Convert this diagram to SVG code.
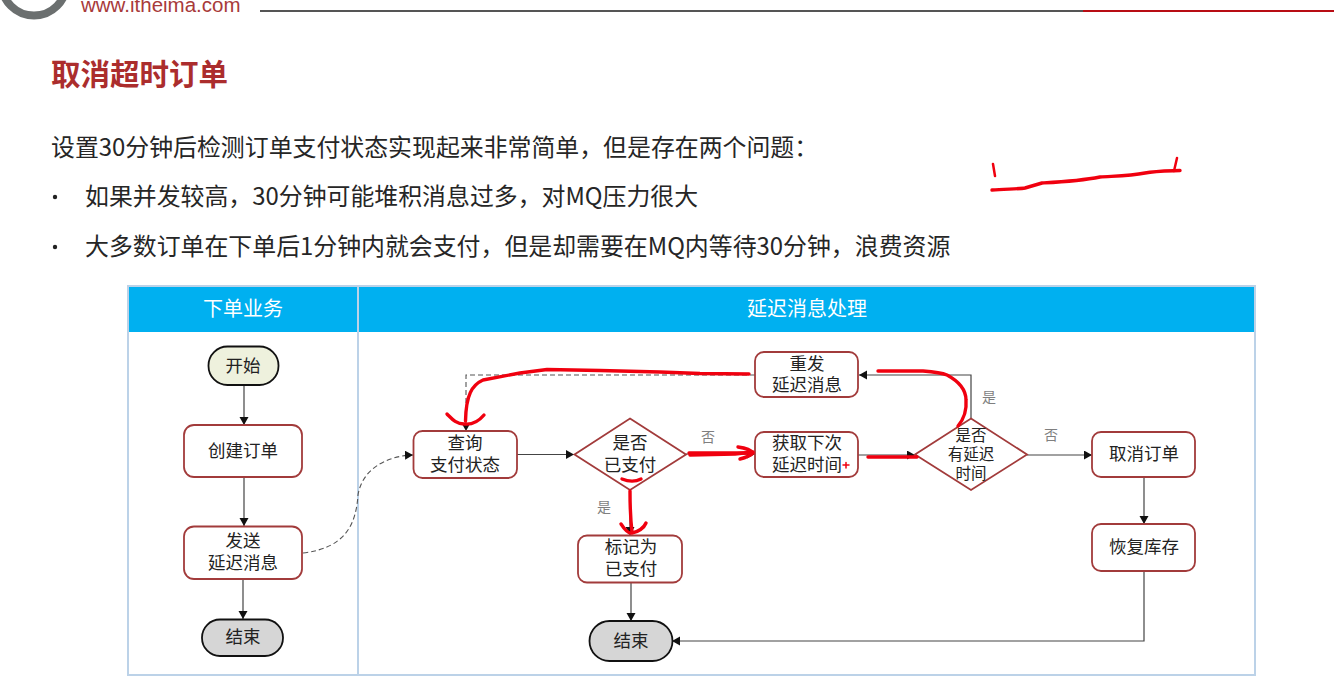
<svg xmlns="http://www.w3.org/2000/svg" width="1334" height="687" viewBox="0 0 1334 687">
<style>
text{font-family:"Noto Sans CJK SC","Noto Sans",sans-serif;fill:#222}
.b{font-size:23.900px;fill:#262626}
.n{font-size:17.500px;text-anchor:middle;fill:#222}
.s{font-size:15.500px;text-anchor:middle;fill:#222}
.l{font-size:14px;text-anchor:middle;fill:#7f7f7f}
.h{font-size:20px;text-anchor:middle;fill:#fff}
.box{fill:#fff;stroke:#a23b3b;stroke-width:1.800}
.st{stroke:#111;stroke-width:1.800}
.c{fill:none;stroke:#444;stroke-width:1.200}
.d{fill:none;stroke:#555;stroke-width:1.100;stroke-dasharray:5 3}
.r{fill:none;stroke:#f0000f;stroke-width:3.400;stroke-linecap:round;stroke-linejoin:round}
.lane{fill:none;stroke:#bcd2e8;stroke-width:2}
</style>
<defs>
<marker id="a" markerUnits="userSpaceOnUse" markerWidth="10" markerHeight="10" refX="8" refY="4.500" orient="auto"><path d="M0 0L8 4.500L0 9Z" fill="#111"/></marker>
</defs>
<rect width="1334" height="687" fill="#fff"/>
<g id="header">
<circle cx="34" cy="-17" r="32.500" fill="none" stroke="#6b6f6f" stroke-width="8"/>
<text x="81" y="12" style="font-family:'Liberation Sans',sans-serif;font-size:20.500px;fill:#a83a3a">www.itheima.com</text>
<rect x="260" y="10" width="824" height="2" fill="#555"/>
<rect x="1083" y="10" width="251" height="2" fill="#b80d14"/>
</g>
<text x="51" y="85" style="font-size:29.500px;font-weight:700;fill:#ab2d2d">取消超时订单</text>
<text class="b" x="51" y="156">设置30分钟后检测订单支付状态实现起来非常简单，但是存在两个问题：</text>
<circle cx="55" cy="197" r="2.200" fill="#222"/>
<text class="b" x="85" y="205">如果并发较高，30分钟可能堆积消息过多，对MQ压力很大</text>
<circle cx="55" cy="247" r="2.200" fill="#222"/>
<text class="b" x="85" y="255">大多数订单在下单后1分钟内就会支付，但是却需要在MQ内等待30分钟，浪费资源</text>
<g id="swimlanes">
<rect x="128" y="286" width="1127" height="46" fill="#00b0f0"/>
<rect class="lane" x="128" y="286" width="1127" height="389"/>
<path class="lane" d="M358 286V675"/>
<text class="h" x="243" y="316">下单业务</text>
<text class="h" x="807" y="316">延迟消息处理</text>
</g>
<g id="connectors">
<path class="c" d="M244 385V425" marker-end="url(#a)"/>
<path class="c" d="M244 477V526" marker-end="url(#a)"/>
<path class="c" d="M243 579V619" marker-end="url(#a)"/>
<path class="d" d="M303 553C345 548 356 525 358 495C362 470 385 456 413 455" marker-end="url(#a)"/>
<path class="c" d="M517 454.500H574" marker-end="url(#a)"/>
<path class="c" d="M686 454H755" marker-end="url(#a)"/>
<path class="c" d="M630 490V535" marker-end="url(#a)"/>
<path class="c" d="M631 582V621" marker-end="url(#a)"/>
<path class="c" d="M858 455H915" marker-end="url(#a)"/>
<path class="c" d="M971 418V375H859" marker-end="url(#a)"/>
<path class="d" d="M755 375H466V431" marker-end="url(#a)"/>
<path class="c" d="M1027 455H1092" marker-end="url(#a)"/>
<path class="c" d="M1144 477V524" marker-end="url(#a)"/>
<path class="c" d="M1144 571V641H672" marker-end="url(#a)"/>
<text class="l" x="708" y="442">否</text>
<text class="l" x="604" y="512">是</text>
<text class="l" x="989" y="402">是</text>
<text class="l" x="1051" y="440">否</text>
</g>
<g id="start1"><rect x="208.500" y="346.500" width="70" height="38.500" rx="19" fill="#eef1dd" class="st"/><text class="n" x="243" y="372">开始</text></g>
<g id="create"><rect class="box" x="184" y="425" width="118" height="52" rx="10"/><text class="n" x="243" y="457">创建订单</text></g>
<g id="send"><rect class="box" x="184" y="526.500" width="118" height="52.500" rx="10"/><text class="n"><tspan x="243" y="547">发送</tspan><tspan x="243" y="569">延迟消息</tspan></text></g>
<g id="end1"><rect x="202" y="619.500" width="81" height="36.500" rx="18" fill="#d6d6d6" class="st"/><text class="n" x="243" y="643">结束</text></g>
<g id="query"><rect class="box" x="413.500" y="431" width="103.500" height="47" rx="9"/><text class="n"><tspan x="465" y="449">查询</tspan><tspan x="465" y="471">支付状态</tspan></text></g>
<g id="paid"><path class="box" d="M630 418.500L686 454.500L630 490L574.500 454.500Z"/><text class="n"><tspan x="630" y="449">是否</tspan><tspan x="630" y="471">已支付</tspan></text></g>
<g id="next"><rect class="box" x="755" y="432" width="103" height="45" rx="9"/><text class="n"><tspan x="807" y="449">获取下次</tspan><tspan x="807" y="471">延迟时间</tspan></text></g>
<g id="resend"><rect class="box" x="755" y="352" width="103" height="45" rx="9"/><text class="n"><tspan x="807" y="370">重发</tspan><tspan x="807" y="391">延迟消息</tspan></text></g>
<g id="hasdelay"><path class="box" d="M971 418.500L1027 454.500L971 490L915 454.500Z"/><text class="s"><tspan x="971" y="441">是否</tspan><tspan x="971" y="460">有延迟</tspan><tspan x="971" y="479">时间</tspan></text></g>
<g id="cancel"><rect class="box" x="1092" y="432" width="103" height="45" rx="9"/><text class="n" x="1144" y="460">取消订单</text></g>
<g id="restore"><rect class="box" x="1092" y="524" width="103" height="47" rx="9"/><text class="n" x="1144" y="553">恢复库存</text></g>
<g id="mark"><rect class="box" x="578" y="535.500" width="104" height="47" rx="9"/><text class="n"><tspan x="631" y="553">标记为</tspan><tspan x="631" y="575">已支付</tspan></text></g>
<g id="end2"><rect x="589.500" y="621" width="83" height="40" rx="20" fill="#d6d6d6" class="st"/><text class="n" x="631" y="647">结束</text></g>
<g id="annotations">
<path class="r" d="M749 374L700 373.500L660 372L600 370.500L547 369.500L520 373L483 380C472 385 466 395 465.500 421"/>
<path class="r" d="M447 414C452 419 456 424 464 424C472 425 479 421 484 415"/>
<path class="r" d="M622 479C627 481 635 482 641 479"/>
<path class="r" d="M630 491C630 505 630 515 632 532"/>
<path class="r" d="M621 524C625 530 629 534 632 533C638 532 644 528 646 523"/>
<path class="r" d="M689 453H750"/>
<path class="r" d="M690 455L735 454L753 452"/>
<path class="r" d="M738 447C745 448 751 450 753 453C750 456 744 458 740 459"/>
<path class="r" d="M868 457H917"/>
<path class="r" d="M843 465H849M846 462.500V468" style="stroke-width:1.500"/>
<path class="r" d="M878 371H923C935 372 942 373 947 375C960 382 966 390 966 400C967 412 963 420 958 426"/>
<path class="r" d="M992 190C1005 189 1020 189 1025 188L1042 183C1060 182 1080 181 1100 177C1115 176 1130 176 1145 173C1155 171 1165 171 1180 170.500"/>
<path class="r" d="M993 164L995 176M1177 158L1174 171" style="stroke-width:2.500"/>
</g>
</svg>
